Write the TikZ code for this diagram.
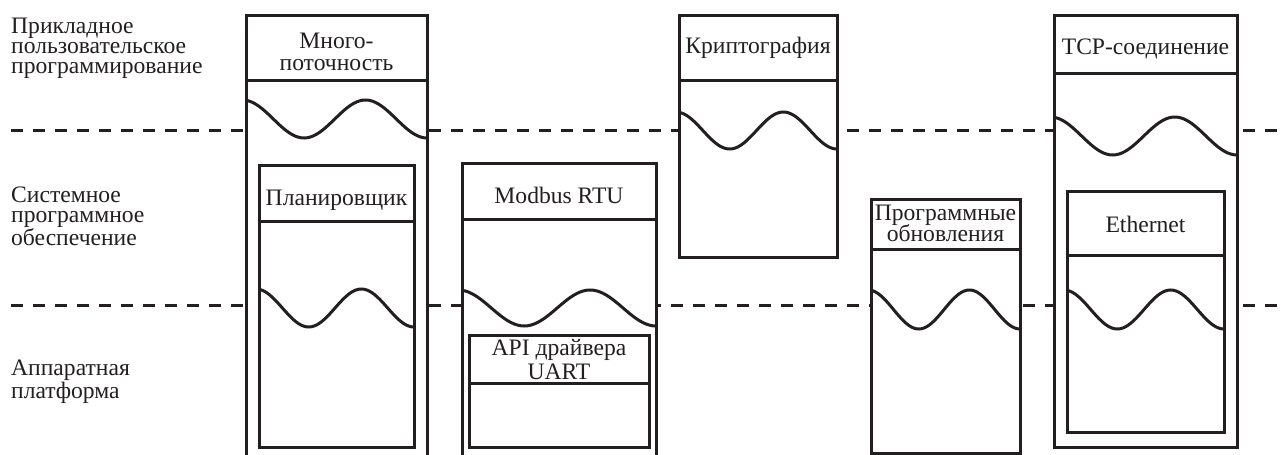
\documentclass[tikz,border=0pt]{standalone}
\usepackage{fontspec}
\setmainfont{Liberation Serif}
\definecolor{ink}{RGB}{35,31,32}
\newcommand\wv[4]{\draw[wave] plot[domain=0:1,samples=60] ({#1+(#2-#1)*\x},{(#3+#4)/2-(#4-#3)/2*cos(10+530*\x)});}
\begin{document}
\begin{tikzpicture}[x=1pt,y=-1pt,
  boxnode/.style={draw=ink, fill=white, rectangle, inner sep=0pt, outer sep=0pt, anchor=north west, line width=3pt},
  hline/.style={draw=ink, line width=3pt},
  lbl/.style={text=ink, font=\fontsize{23.6}{20}\selectfont, align=left, anchor=base west, inner sep=0pt},
  hdr/.style={text=ink, font=\fontsize{23.6}{20}\selectfont, align=center, anchor=base, inner sep=0pt},
  wave/.style={draw=ink, line width=3pt},
  sep/.style={draw=ink, dash pattern=on 12pt off 10pt, line width=3pt}]
\useasboundingbox (0,0) rectangle (1286,455);
\fill[white] (0,0) rectangle (1286,455);
\clip (0,0) rectangle (1286,455);

% level separators
\coordinate (d1a) at (11,130); \coordinate (d1b) at (1286,130);
\coordinate (d2a) at (11,305); \coordinate (d2b) at (1286,305);
\draw[sep] (d1a) -- (d1b);
\draw[sep] (d2a) -- (d2b);

% level labels (anchored at the baseline of their last line)
\node[lbl] (lapp) at (11,73) {Прикладное\\пользовательское\\программирование};
\node[lbl] (lsys) at (11,245) {Системное\\программное\\обеспечение};
\node[lbl] (lhw) at (11,398) {Аппаратная\\платформа};

% Multithreading column
\node[boxnode, minimum width=181pt, minimum height=470pt] (mt) at (246,15) {};
\draw[hline] (246,80) -- (427,80);
\node[hdr] (mtt) at (336.5,70) {Много-\\[2pt]поточность};
\wv{246}{427}{100}{138}
\node[boxnode, minimum width=155pt, minimum height=282pt] (sch) at (259,165) {};
\draw[hline] (259,221) -- (414,221);
\node[hdr] (scht) at (336.5,205) {Планировщик};
\wv{259}{414}{289}{327}

% Modbus column
\node[boxnode, minimum width=194pt, minimum height=320pt] (mb) at (462,163) {};
\draw[hline] (462,219) -- (656,219);
\node[hdr] (mbt) at (559,203) {Modbus RTU};
\wv{462}{656}{290}{326}
\node[boxnode, minimum width=180pt, minimum height=112pt] (uart) at (469,335) {};
\draw[hline] (469,383) -- (649,383);
\node[hdr] (uartt) at (559,379) {API драйвера\\[2pt]UART};

% Crypto column
\node[boxnode, minimum width=158pt, minimum height=242pt] (cr) at (679,15) {};
\draw[hline] (679,80) -- (837,80);
\node[hdr] (crt) at (758,53) {Криптография};
\wv{679}{837}{112}{149}

% Updates column
\node[boxnode, minimum width=149pt, minimum height=254pt] (up) at (871,199) {};
\draw[hline] (871,249) -- (1020,249);
\node[hdr] (upt) at (945.5,241) {Программные\\[-2pt]обновления};
\wv{871}{1020}{290}{329}

% TCP column
\node[boxnode, minimum width=183pt, minimum height=432pt] (tcp) at (1054,15) {};
\draw[hline] (1054,73) -- (1237,73);
\node[hdr] (tcpt) at (1145.5,54) {TCP-соединение};
\wv{1054}{1237}{117}{155}
\node[boxnode, minimum width=157pt, minimum height=241pt] (eth) at (1067,191) {};
\draw[hline] (1067,255) -- (1224,255);
\node[hdr] (etht) at (1145.5,232) {Ethernet};
\wv{1067}{1224}{290}{329}
\end{tikzpicture}
\end{document}
